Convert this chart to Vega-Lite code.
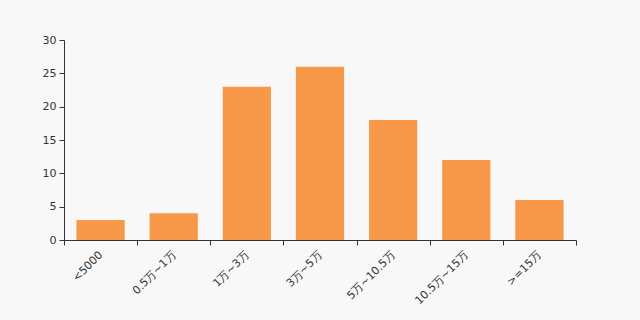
{
  "$schema": "https://vega.github.io/schema/vega-lite/v6.json",
  "width": 512,
  "height": 200,
  "autosize": {"type": "none"},
  "padding": {"left": 64, "top": 40, "right": 64, "bottom": 80},
  "background": "#f8f8f8",
  "config": {"view": {"stroke": null}, "font": "DejaVu Sans"},
  "data": {"values": [
    {"range": "<5000", "count": 3},
    {"range": "0.5万~1万", "count": 4},
    {"range": "1万~3万", "count": 23},
    {"range": "3万~5万", "count": 26},
    {"range": "5万~10.5万", "count": 18},
    {"range": "10.5万~15万", "count": 12},
    {"range": ">=15万", "count": 6}
  ]},
  "mark": {"type": "bar", "color": "#f8994a", "width": {"band": 0.66}},
  "encoding": {
    "x": {
      "field": "range", "type": "nominal", "sort": null,
      "scale": {"paddingInner": 0, "paddingOuter": 0},
      "axis": {
        "title": null, "labelAngle": -45, "labelAlign": "right", "labelBaseline": "middle",
        "tickBand": "extent", "tickSize": 5, "tickColor": "#333", "domainColor": "#333",
        "labelColor": "#333", "labelFontSize": 11, "labelPadding": 8
      }
    },
    "y": {
      "field": "count", "type": "quantitative",
      "scale": {"domain": [0, 30]},
      "axis": {
        "title": null, "values": [0, 5, 10, 15, 20, 25, 30], "grid": false,
        "tickSize": 5, "tickColor": "#333", "domainColor": "#333",
        "labelColor": "#333", "labelFontSize": 11, "labelPadding": 3
      }
    }
  }
}
